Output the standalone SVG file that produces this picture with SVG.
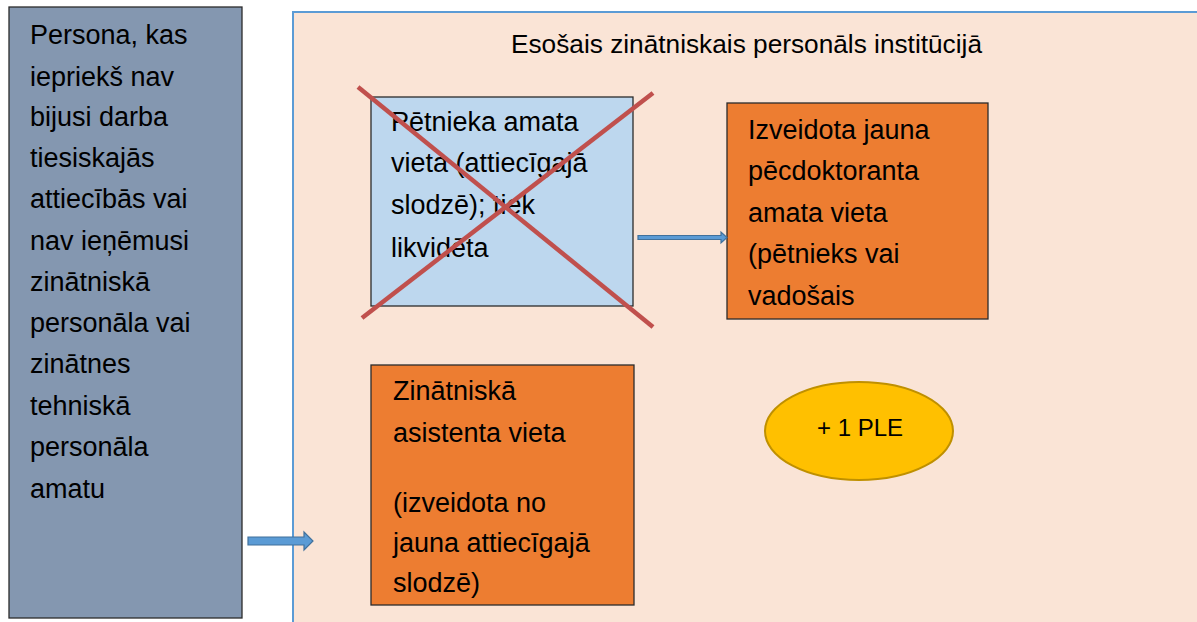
<svg xmlns="http://www.w3.org/2000/svg" width="1197" height="622" viewBox="0 0 1197 622">
<style>
text{font-family:"Liberation Sans",Arial,sans-serif;fill:#000}
.t{font-size:27px}
.box{stroke:#2b2b2b;stroke-width:1.3}
.arr{fill:#5B9BD5;stroke:#41719C;stroke-width:1.2}
</style>
<rect width="1197" height="622" fill="#fff"/>
<g id="person">
<rect class="box" x="9" y="7" width="233" height="611" fill="#8497B0"/>
<text class="t" x="30">
<tspan x="30" y="44">Persona, kas</tspan>
<tspan x="30" y="86">iepriekš nav</tspan>
<tspan x="30" y="126">bijusi darba</tspan>
<tspan x="30" y="167">tiesiskajās</tspan>
<tspan x="30" y="208">attiecībās vai</tspan>
<tspan x="30" y="250">nav ieņēmusi</tspan>
<tspan x="30" y="291">zinātniskā</tspan>
<tspan x="30" y="332">personāla vai</tspan>
<tspan x="30" y="373">zinātnes</tspan>
<tspan x="30" y="415">tehniskā</tspan>
<tspan x="30" y="456">personāla</tspan>
<tspan x="30" y="498">amatu</tspan>
</text>
</g>
<g id="institution">
<rect x="293" y="12" width="912" height="620" fill="#FAE4D6" stroke="#5B9BD5" stroke-width="2"/>
<text x="511" y="53" font-size="26" textLength="471" lengthAdjust="spacingAndGlyphs">Esošais zinātniskais personāls institūcijā</text>
</g>
<g id="researcher">
<rect class="box" x="371" y="97" width="262" height="209" fill="#BDD7EE"/>
<text class="t">
<tspan x="391" y="131">Pētnieka amata</tspan>
<tspan x="391" y="172">vieta (attiecīgajā</tspan>
<tspan x="391" y="214">slodzē); tiek</tspan>
<tspan x="391" y="257">likvidēta</tspan>
</text>
<g stroke="#C0504D" stroke-width="4.5" stroke-linecap="butt">
<line x1="358" y1="87" x2="653" y2="327"/>
<line x1="653" y1="93" x2="362" y2="318"/>
</g>
</g>
<g id="postdoc">
<rect class="box" x="727" y="103" width="261" height="216" fill="#ED7D31"/>
<text class="t">
<tspan x="748" y="139">Izveidota jauna</tspan>
<tspan x="748" y="180">pēcdoktoranta</tspan>
<tspan x="748" y="222">amata vieta</tspan>
<tspan x="748" y="263">(pētnieks vai</tspan>
<tspan x="748" y="305">vadošais</tspan>
</text>
</g>
<g id="assistant">
<rect class="box" x="371" y="365" width="263" height="240" fill="#ED7D31"/>
<text class="t">
<tspan x="393" y="400">Zinātniskā</tspan>
<tspan x="393" y="442">asistenta vieta</tspan>
<tspan x="393" y="512">(izveidota no</tspan>
<tspan x="393" y="552">jauna attiecīgajā</tspan>
<tspan x="393" y="592">slodzē)</tspan>
</text>
</g>
<g id="ple">
<ellipse cx="859" cy="431" rx="94" ry="49" fill="#FFC000" stroke="#BF9000" stroke-width="2"/>
<text x="860" y="436" font-size="24" text-anchor="middle">+ 1 PLE</text>
</g>
<g id="connectors">
<path class="arr" d="M248,537 H304 V532 L313,541 L304,550 V545 H248 Z"/>
<path class="arr" d="M638,235.5 H721 V232 L727,237.5 L721,243 V239.5 H638 Z"/>
</g>
</svg>
